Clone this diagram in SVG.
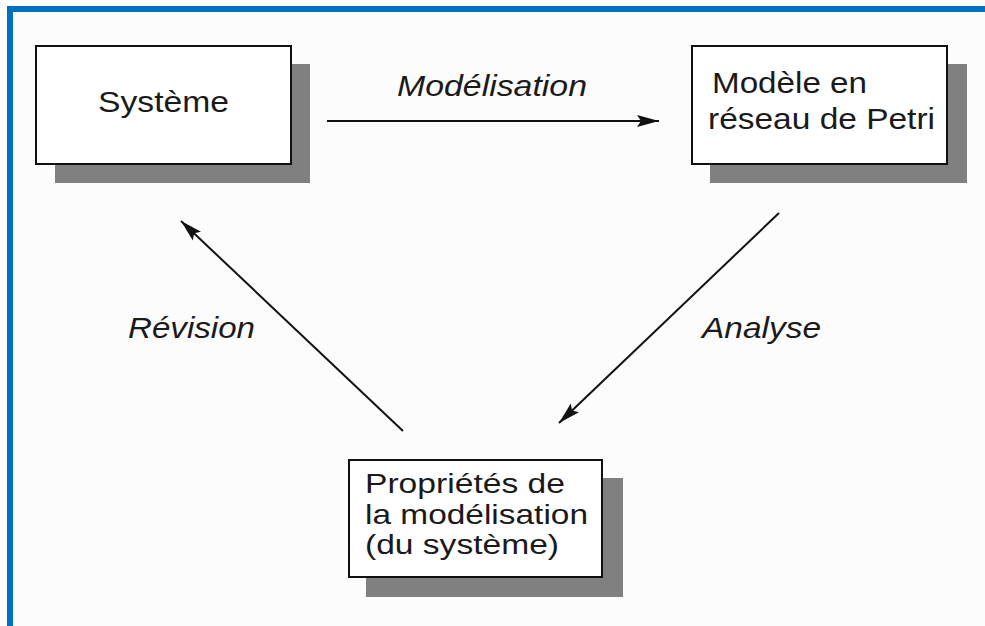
<svg xmlns="http://www.w3.org/2000/svg" width="985" height="626" viewBox="0 0 985 626">
  <defs>
    <marker id="arr" markerUnits="userSpaceOnUse" markerWidth="24" markerHeight="13" refX="22" refY="6.5" orient="auto">
      <path d="M0,0.5 L22,6.5 L0,12.5 L4,6.5 Z" fill="#111"/>
    </marker>
  </defs>
  <style>
    .shadow { fill: #808080; }
    .box { fill: #ffffff; stroke: #111; stroke-width: 2; }
    .t { font-family: "Liberation Sans", Arial, sans-serif; font-size: 30px; fill: #1a1a1a; }
    .t2 { font-family: "Liberation Sans", Arial, sans-serif; font-size: 27.5px; fill: #1a1a1a; }
    .lbl { font-family: "Liberation Sans", Arial, sans-serif; font-size: 30px; font-style: italic; fill: #1a1a1a; }
    .edge { stroke: #111; stroke-width: 2; fill: none; marker-end: url(#arr); }
  </style>
  <rect x="0" y="0" width="985" height="626" fill="#fcfcfc"/>
  <rect x="7" y="6" width="978" height="6" fill="#0070c0"/>
  <rect x="7" y="6" width="6" height="620" fill="#0070c0"/>

  <g id="systeme">
    <rect class="shadow" x="55" y="64" width="255" height="119"/>
    <rect class="box" x="36" y="46" width="255" height="118"/>
    <text class="t" x="98" y="112" textLength="131" lengthAdjust="spacingAndGlyphs">Système</text>
  </g>

  <g id="modele">
    <rect class="shadow" x="710" y="64" width="257" height="119"/>
    <rect class="box" x="692" y="46" width="255" height="118"/>
    <text class="t" x="712" y="93" textLength="155" lengthAdjust="spacingAndGlyphs">Modèle en</text>
    <text class="t" x="708" y="129" textLength="227" lengthAdjust="spacingAndGlyphs">réseau de Petri</text>
  </g>

  <g id="proprietes">
    <rect class="shadow" x="366" y="478" width="257" height="119"/>
    <rect class="box" x="349" y="460" width="253" height="117"/>
    <text class="t2" x="365" y="493" textLength="200" lengthAdjust="spacingAndGlyphs">Propriétés de</text>
    <text class="t2" x="365" y="524" textLength="223" lengthAdjust="spacingAndGlyphs">la modélisation</text>
    <text class="t2" x="365" y="554" textLength="194" lengthAdjust="spacingAndGlyphs">(du système)</text>
  </g>

  <g id="connectors">
    <line class="edge" x1="327" y1="121" x2="659" y2="121"/>
    <line class="edge" x1="779" y1="213" x2="559" y2="423"/>
    <line class="edge" x1="403" y1="431" x2="181" y2="221"/>
    <text class="lbl" x="397" y="96" textLength="190" lengthAdjust="spacingAndGlyphs">Modélisation</text>
    <text class="lbl" x="702" y="338" textLength="119" lengthAdjust="spacingAndGlyphs">Analyse</text>
    <text class="lbl" x="128" y="338" textLength="127" lengthAdjust="spacingAndGlyphs">Révision</text>
  </g>
</svg>
